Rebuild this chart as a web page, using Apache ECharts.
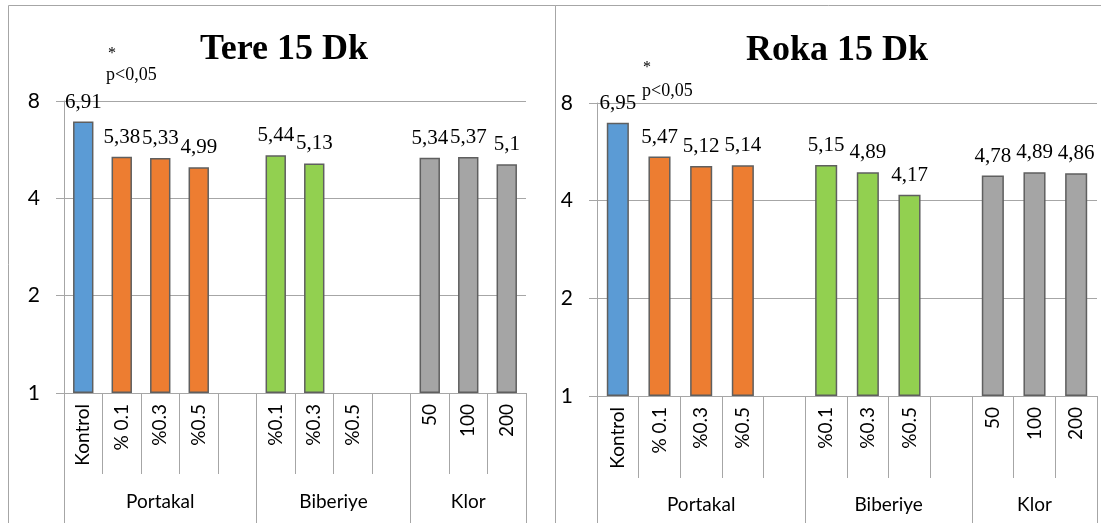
<!DOCTYPE html>
<html>
<head>
<meta charset="utf-8">
<script src="https://cdn.jsdelivr.net/npm/echarts@6/dist/echarts.min.js"></script>
<style>
  html, body { margin: 0; padding: 0; background: #ffffff; }
  #chart { width: 1101px; height: 523px; }
</style>
</head>
<body>
<div id="chart"></div>
<script>
// Treatment slots on the x axis; blank entries leave the gaps between groups
const categories = ['Kontrol', '% 0.1', '%0.3', '%0.5', '', '%0.1', '%0.3', '%0.5', '', '50', '100', '200'];
const groupNames = ['Portakal', 'Biberiye', 'Klor'];
const groupSizes = [5, 4, 3];

// Mean values (log2 scale) for the two 15-minute samples
const tereValues = [6.91, 5.38, 5.33, 4.99, null, 5.44, 5.13, null, null, 5.34, 5.37, 5.1];
const rokaValues = [6.95, 5.47, 5.12, 5.14, null, 5.15, 4.89, 4.17, null, 4.78, 4.89, 4.86];

const yTicks = [1, 2, 4, 8];
const titles = ['Tere 15 Dk', 'Roka 15 Dk'];
const noteStar = '*';
const noteText = 'p<0,05';

// Fill colour per slot
const slotColors = ['#5b9bd5', '#ed7d31', '#ed7d31', '#ed7d31', '#ed7d31',
                    '#92d050', '#92d050', '#92d050', '#92d050',
                    '#a5a5a5', '#a5a5a5', '#a5a5a5'];

const GRID_COLOR = '#a6a6a6';
const SERIF = '"Liberation Serif", "Times New Roman", serif';
const SANS = 'Lato, "Liberation Sans", sans-serif';

// Group row: half-slot points so group names sit at the middle of each span
const halfSlots = categories.length * 2 + 1;
const groupSlots = new Array(halfSlots).fill('');
const groupEdges = [0];
groupSizes.forEach(function (n, i) {
  const start = groupEdges[groupEdges.length - 1];
  groupSlots[start + n] = groupNames[i];
  groupEdges.push(start + n * 2);
});

const grids = [
  { left: 64, top: 101, width: 462, height: 292 },
  { left: 597, top: 103, width: 500, height: 293 }
];

function fmt(v) { return String(v).replace('.', ','); }

function barData(values) {
  return values.map(function (v, i) {
    if (v == null) return '-';
    return { value: v, itemStyle: { color: slotColors[i] } };
  });
}

const xAxes = [];
const yAxes = [];
grids.forEach(function (g, gi) {
  xAxes.push({
    type: 'category', gridIndex: gi, data: categories, boundaryGap: true,
    axisLine: { show: true, lineStyle: { color: GRID_COLOR, width: 1 } },
    axisTick: { show: true, interval: 0, length: gi === 0 ? 81 : 82, lineStyle: { color: GRID_COLOR } },
    axisLabel: { interval: 0, rotate: 90, margin: 11, color: '#000', fontFamily: SANS, fontSize: 19 }
  });
  xAxes.push({
    type: 'category', gridIndex: gi, data: groupSlots, boundaryGap: false, position: 'bottom',
    axisLine: { show: false },
    axisTick: {
      show: true, length: 130, lineStyle: { color: GRID_COLOR },
      interval: function (idx) { return groupEdges.indexOf(idx) >= 0; }
    },
    axisLabel: {
      margin: 99, color: '#000', fontFamily: SANS, fontSize: 19,
      interval: function (idx, val) { return val !== ''; }
    }
  });
  yAxes.push({
    type: 'log', logBase: 2, gridIndex: gi,
    min: yTicks[0], max: yTicks[yTicks.length - 1],
    axisLine: { show: true, lineStyle: { color: GRID_COLOR } },
    axisTick: { show: true, length: 8, lineStyle: { color: GRID_COLOR } },
    splitLine: { show: true, lineStyle: { color: GRID_COLOR, width: 1 } },
    axisLabel: { margin: 24, color: '#000', fontFamily: SANS, fontSize: 21 }
  });
});

function barSeries(values, gi) {
  return {
    type: 'bar', xAxisIndex: gi * 2, yAxisIndex: gi,
    barWidth: '53%',
    data: barData(values),
    itemStyle: { borderColor: '#5f5f5f', borderWidth: 1.5 },
    label: {
      show: true, position: 'top', distance: 9,
      fontFamily: SERIF, fontSize: 21, color: '#000',
      formatter: function (p) { return fmt(p.value); }
    },
    animation: false
  };
}

const chart = echarts.init(document.getElementById('chart'), null, { renderer: 'canvas' });
chart.setOption({
  backgroundColor: '#ffffff',
  animation: false,
  title: [
    { text: titles[0], left: 284, top: 50, padding: 0, textAlign: 'center', textVerticalAlign: 'middle',
      textStyle: { fontFamily: SERIF, fontSize: 36, fontWeight: 'bold', color: '#000' } },
    { text: titles[1], left: 837, top: 51, padding: 0, textAlign: 'center', textVerticalAlign: 'middle',
      textStyle: { fontFamily: SERIF, fontSize: 36, fontWeight: 'bold', color: '#000' } }
  ],
  grid: grids,
  xAxis: xAxes,
  yAxis: yAxes,
  series: [
    barSeries(tereValues, 0),
    barSeries(rokaValues, 1)
  ],
  graphic: [
    { type: 'rect', silent: true, z: 0,
      shape: { x: 8.5, y: 5.5, width: 547, height: 600 },
      style: { fill: null, stroke: GRID_COLOR, lineWidth: 1 } },
    { type: 'rect', silent: true, z: 0,
      shape: { x: 555.5, y: 5.5, width: 600, height: 600 },
      style: { fill: null, stroke: GRID_COLOR, lineWidth: 1 } },
    { type: 'text', x: 112, y: 54, silent: true,
      style: { text: noteStar, font: '16px ' + SERIF, fill: '#000', textAlign: 'center', textVerticalAlign: 'middle' } },
    { type: 'text', x: 106, y: 75, silent: true,
      style: { text: noteText, font: '18px ' + SERIF, fill: '#000', textAlign: 'left', textVerticalAlign: 'middle' } },
    { type: 'text', x: 647, y: 68, silent: true,
      style: { text: noteStar, font: '16px ' + SERIF, fill: '#000', textAlign: 'center', textVerticalAlign: 'middle' } },
    { type: 'text', x: 642, y: 91, silent: true,
      style: { text: noteText, font: '18px ' + SERIF, fill: '#000', textAlign: 'left', textVerticalAlign: 'middle' } }
  ]
});
</script>
</body>
</html>
